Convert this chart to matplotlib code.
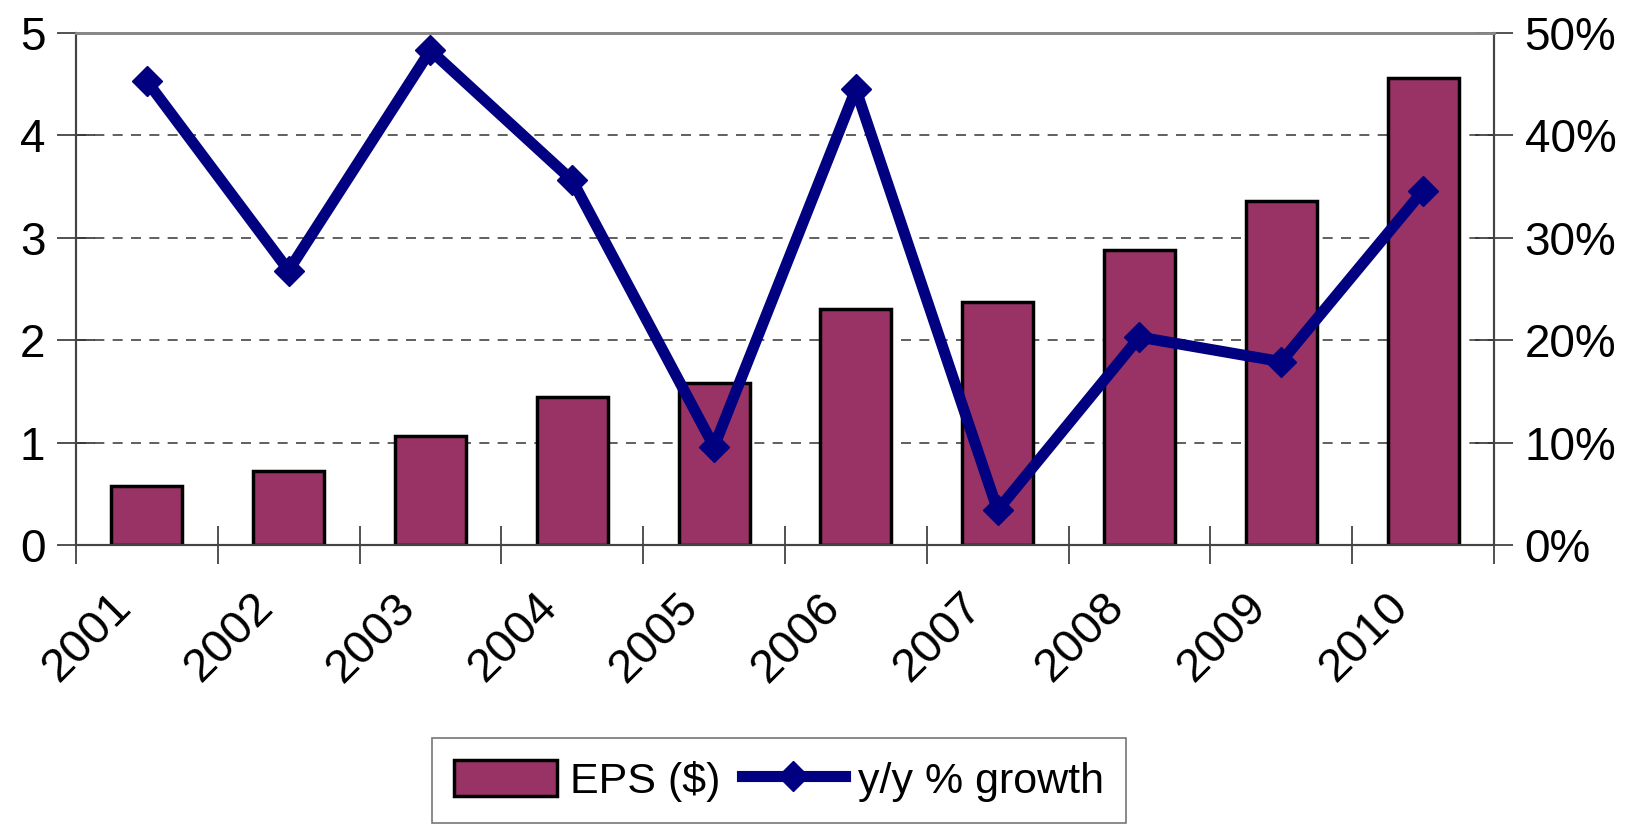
import numpy as np
import matplotlib.pyplot as plt
import matplotlib.transforms as mtransforms
from matplotlib.lines import Line2D
from matplotlib.patches import Patch

plt.rcParams['font.family'] = ['Liberation Sans', 'DejaVu Sans']

# 数据
years = ['2001', '2002', '2003', '2004', '2005', '2006', '2007', '2008', '2009', '2010']
eps = [0.58, 0.72, 1.06, 1.45, 1.58, 2.30, 2.37, 2.88, 3.36, 4.56]
growth = [45.3, 26.8, 48.3, 35.6, 9.6, 44.5, 3.4, 20.3, 17.9, 34.6]

bar_color = '#993366'
line_color = '#000080'

fig = plt.figure(figsize=(16.26, 8.24), dpi=100)
ax1 = fig.add_axes([0.0467, 0.3386, 0.8721, 0.6214])
ax2 = ax1.twinx()

x = np.arange(len(years))
ax1.bar(x, eps, width=0.5, color=bar_color, edgecolor='black', linewidth=2.5, zorder=2)
ax2.plot(x, growth, color=line_color, linewidth=8, marker='D', markersize=15,
         markeredgecolor=line_color, markerfacecolor=line_color, zorder=3)

ax1.set_xlim(-0.5, len(years) - 0.5)
ax1.set_ylim(0, 5)
ax2.set_ylim(0, 50)

# y 轴刻度
ax1.set_yticks(range(6))
ax1.set_yticklabels([str(i) for i in range(6)], fontsize=33)
ax2.set_yticks(range(0, 51, 10))
ax2.set_yticklabels(['%d%%' % v for v in range(0, 51, 10)], fontsize=33)
ax1.tick_params(axis='y', direction='inout', length=28, width=1.2, color='#333333', pad=8)
ax2.tick_params(axis='y', direction='inout', length=28, width=1.2, color='#333333', pad=8)

# x 轴刻度：分隔线在类别之间，标签在中间
ax1.set_xticks(np.arange(-0.5, len(years), 1))
ax1.set_xticklabels([''] * (len(years) + 1))
ax1.set_xticks(x, minor=True)
ax1.set_xticklabels(years, minor=True, fontsize=34, rotation=45, ha='right',
                    va='center', rotation_mode='anchor')
ax1.tick_params(axis='x', which='major', direction='inout', length=28, width=1.2, color='#333333')
ax1.tick_params(axis='x', which='minor', length=0, pad=40)
shift = mtransforms.ScaledTranslation(-22 / 100, 0, fig.dpi_scale_trans)
for lab in ax1.get_xticklabels(minor=True):
    lab.set_transform(lab.get_transform() + shift)

# 网格
for v in range(1, 5):
    ax1.axhline(v, color='#444444', linestyle=(0, (6, 5)), linewidth=1.2, zorder=1)

for a in (ax1, ax2):
    a.spines['top'].set_color('#888888')
    a.spines['top'].set_linewidth(2)
    a.spines['left'].set_color('#444444')
    a.spines['left'].set_linewidth(1.5)
    a.spines['right'].set_color('#444444')
    a.spines['right'].set_linewidth(1.5)
    a.spines['bottom'].set_color('#444444')
    a.spines['bottom'].set_linewidth(1.5)

# 图例
handles = [Patch(facecolor=bar_color, edgecolor='black', linewidth=2.5),
           Line2D([0], [0], color=line_color, linewidth=8, marker='D', markersize=15)]
leg = fig.legend(handles, ['EPS ($)', 'y/y % growth'], loc='upper center',
                 bbox_to_anchor=(0.479, 0.104), ncol=2, fontsize=31, frameon=True,
                 fancybox=False, edgecolor='#555555', handlelength=2.4, handleheight=0.9,
                 handletextpad=0.3, columnspacing=0.5, borderpad=0.5, borderaxespad=0)
leg.get_frame().set_linewidth(1.2)

fig.savefig('out.png', dpi=100)
